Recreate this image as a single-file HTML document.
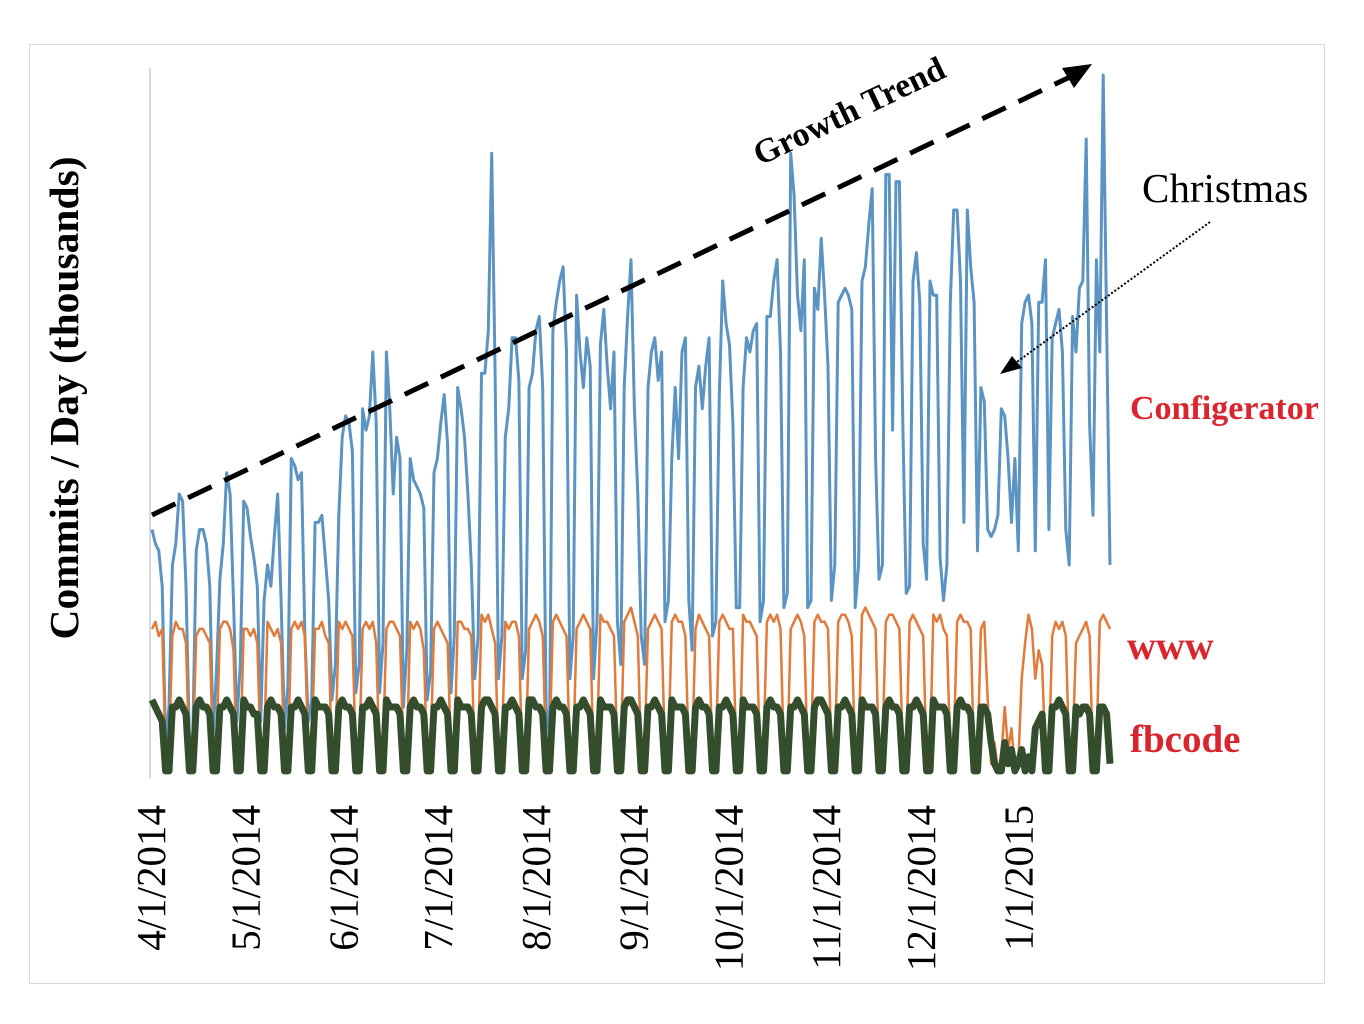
<!DOCTYPE html>
<html><head><meta charset="utf-8"><style>
html,body{margin:0;padding:0;background:#fff;}
svg{display:block;}
</style></head><body>
<svg id="chart" width="1364" height="1024" viewBox="0 0 1364 1024" xmlns="http://www.w3.org/2000/svg">
<rect x="29.5" y="44.5" width="1295" height="939" fill="#fff" stroke="#d9d9d9" stroke-width="1"/>
<line x1="150" y1="68" x2="150" y2="778" stroke="#d9d9d9" stroke-width="2"/>
<g id="series"></g>
<g id="ticks"></g>
<text transform="translate(78,398) rotate(-90)" text-anchor="middle" font-family="Liberation Serif, serif" font-weight="bold" font-size="41.5" fill="#000">Commits / Day (thousands)</text>
<line x1="152" y1="515" x2="1072" y2="76" stroke="#000" stroke-width="5" stroke-dasharray="26,14"/>
<polygon points="1092,64 1062,68 1074,88" fill="#000"/>
<text transform="translate(760,166) rotate(-25.5)" font-family="Liberation Serif, serif" font-weight="bold" font-size="34" fill="#000">Growth Trend</text>
<text x="1142" y="202" font-family="Liberation Serif, serif" font-size="41" fill="#000">Christmas</text>
<line x1="1210" y1="222" x2="1014" y2="364" stroke="#000" stroke-width="2" stroke-dasharray="2,2"/>
<polygon points="1000,374 1012,356 1022,368" fill="#000"/>
<text x="1130" y="419" font-family="Liberation Serif, serif" font-weight="bold" font-size="34" fill="#d9262e">Configerator</text>
<text x="1127" y="659" font-family="Liberation Serif, serif" font-weight="bold" font-size="40" fill="#d9262e">www</text>
<text x="1130" y="752" font-family="Liberation Serif, serif" font-weight="bold" font-size="39" fill="#d9262e">fbcode</text>
</svg>
<script>
const configerator = [35,33,32,27,5,10,
30,33,40,39,27,5,6, 32,35,35,33,27,6,15, 28,33,43,40,25,8,16, 39,38,34,31,27,8,25,
30,27,34,40,25,7,13, 45,44,42,43,20,8,11, 36,36,37,31,25,11,16, 37,48,51,50,46,12,16,
52,49,51,60,50,12,19, 60,52,40,48,45,10,18, 45,42,41,40,38,11,15, 43,45,50,54,47,12,20,
55,52,48,40,30,14,20, 57,57,63,88,57,14,20, 48,52,62,62,56,14,18, 55,57,63,65,55,10,6,
63,67,70,72,60,14,20, 68,60,55,62,58,14,22, 61,66,58,52,60,22,16, 55,65,73,52,40,20,16,
55,60,62,56,60,22,25, 45,55,45,60,62,25,18, 55,58,52,58,62,20,22, 54,70,64,61,50,24,24,
55,62,60,63,64,22,25, 65,65,70,73,60,24,26, 88,82,68,63,73,24,25, 69,66,76,68,58,25,30,
67,68,69,68,66,24,30, 70,72,78,83,45,28,30, 85,85,49,84,84,50,26,
27,70,74,67,33,28,70, 68,68,31,25,30,67,80, 80,70,36,80,72,67,32, 55,53,35,34,35,37,52,
51,45,36,45,32,64,67, 68,64,32,67,67,73,35, 62,64,66,60,35,30,65, 60,69,70,90,50,37,73, 60,99,64,30];
const www = [21,22,20,21,3,4,
20,22,21,21,19,2,3, 20,21,21,20,19,3,4, 21,22,22,21,18,2,3, 21,21,20,21,19,3,4,
22,21,20,21,19,2,3, 21,22,21,22,20,3,4, 21,21,22,20,19,2,4, 22,21,22,21,20,3,3,
21,22,21,22,19,2,4, 21,22,22,21,20,3,3, 22,21,22,21,18,2,4, 21,22,21,20,19,3,3,
22,22,21,21,20,2,4, 23,22,23,21,19,3,4, 22,21,22,22,20,2,3, 21,22,23,22,20,3,4,
22,23,22,21,20,3,3, 21,22,23,22,21,2,4, 23,22,22,21,20,3,3, 22,23,24,22,20,2,4,
21,22,23,22,21,3,4, 22,23,22,22,20,3,3, 21,23,22,21,20,2,4, 22,23,22,21,21,3,3,
23,22,22,21,20,2,4, 22,23,22,23,21,3,3, 21,22,23,22,20,2,4, 22,23,22,22,21,3,3,
22,23,23,22,20,2,4, 23,24,23,22,21,2,4, 22,23,23,22,21,3,3,
22,23,22,21,20,2,3, 23,22,23,21,20,3,4, 22,23,22,22,21,2,3, 21,22,11,2,5,1,3,
10,4,7,1,2,14,19, 23,21,14,18,16,3,3, 20,22,21,22,20,3,4, 19,20,21,22,20,2,4, 22,23,22,21];
const fbcode = [11,10,9,8,1,1,
10,10,11,10,9,1,1, 10,11,10,10,9,1,1, 10,10,11,10,9,1,1, 11,10,10,9,9,1,1,
10,11,10,10,9,1,1, 10,10,11,10,9,1,1, 11,10,10,10,9,1,1, 10,11,10,10,9,1,1,
10,10,11,10,9,1,1, 11,10,10,10,9,1,1, 10,11,10,10,9,1,1, 10,10,11,10,9,1,1,
11,10,10,10,9,1,1, 10,11,11,10,9,1,1, 10,10,11,10,9,1,1, 11,11,10,10,9,1,1,
10,11,10,10,9,1,1, 10,10,11,10,9,1,1, 11,10,10,10,9,1,1, 10,11,11,10,9,1,1,
10,10,11,10,9,1,1, 11,10,10,10,9,1,1, 10,11,10,10,9,1,1, 10,10,11,10,9,1,1,
11,10,10,10,9,1,1, 10,11,10,10,9,1,1, 10,10,11,10,9,1,1,
10,11,11,10,9,1,1, 10,10,11,10,9,1,1, 11,10,10,10,9,1,1, 10,11,10,10,9,1,1,
10,10,11,10,9,1,1, 11,10,10,10,9,1,1, 10,11,10,10,9,1,1, 10,10,9,5,2,1,1,
5,2,4,1,2,4,1, 3,1,7,8,9,1,1, 10,10,11,10,9,1,1, 10,9,10,10,9,1,1, 10,10,9,2];
const tickLabels = ["4/1/2014","5/1/2014","6/1/2014","7/1/2014","8/1/2014","9/1/2014","10/1/2014","11/1/2014","12/1/2014","1/1/2015"];
const tickDays = [0,30,61,91,122,153,183,214,244,275];

const NS = "http://www.w3.org/2000/svg";
const X0 = 152, X1 = 1110, Y0 = 778, YTOP = 68, VMAX = 100;
function yScale(v){ return Y0 - v * (Y0 - YTOP) / VMAX; }
function xIndex(i, n){ return X0 + i * (X1 - X0) / (n - 1); }
function xDay(d){ return X0 + d * 3.155; }

const g = document.getElementById('series');
function drawLine(arr, color, width, name){
  const pts = arr.map((v,i)=> xIndex(i, arr.length).toFixed(1) + "," + yScale(v).toFixed(1)).join(" ");
  const p = document.createElementNS(NS, 'polyline');
  p.setAttribute('points', pts);
  p.setAttribute('fill', 'none');
  p.setAttribute('stroke', color);
  p.setAttribute('stroke-width', width);
  p.setAttribute('stroke-linejoin', 'round');
  
  
  g.appendChild(p);
}
drawLine(configerator, '#5b93c3', 3, 'configerator-line');
drawLine(www, '#e07b3c', 2.5, 'www-line');
drawLine(fbcode, '#344d2c', 7, 'fbcode-line');

const tg = document.getElementById('ticks');
tickLabels.forEach((lab, k)=>{
  const x = xDay(tickDays[k]);
  const t = document.createElementNS(NS, 'text');
  t.setAttribute('transform', 'translate(' + (x + 13).toFixed(1) + ',805) rotate(-90)');
  t.setAttribute('text-anchor', 'end');
  t.setAttribute('font-family', 'Liberation Serif, serif');
  t.setAttribute('font-size', '41');
  t.setAttribute('fill', '#000');
  t.textContent = lab;
  
  
  tg.appendChild(t);
});
</script>
</body></html>
